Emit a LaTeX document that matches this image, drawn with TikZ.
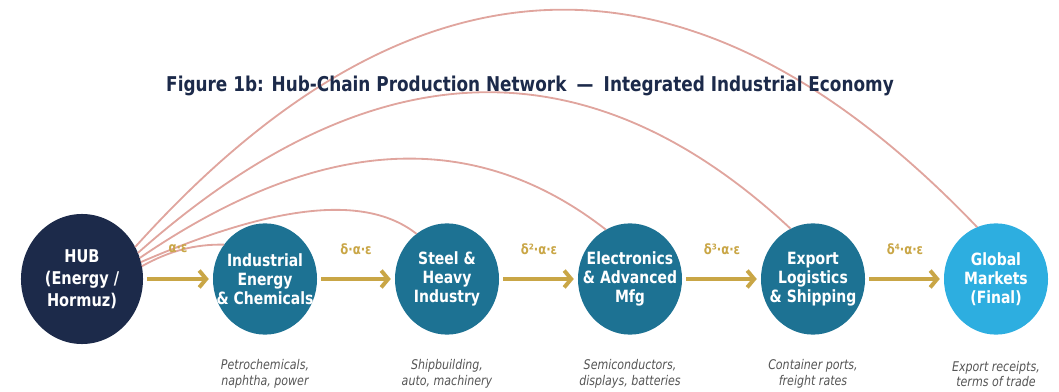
\documentclass[tikz,border=0pt]{standalone}
\usepackage{fontspec}
\setmainfont{DejaVuSansCondensed}[Extension=.ttf,FakeStretch=0.92,%
  BoldFont=*-Bold,ItalicFont=*-Oblique,BoldItalicFont=*-BoldOblique]
\usetikzlibrary{arrows.meta,shapes.geometric}

\definecolor{hubnavy}{HTML}{1C2A4A}
\definecolor{chainteal}{HTML}{1D7293}
\definecolor{marketblue}{HTML}{2DAEE0}
\definecolor{flowgold}{HTML}{C9A646}
\definecolor{linkpink}{HTML}{E0A59E}
\definecolor{notegray}{HTML}{555555}

\begin{document}
\begin{tikzpicture}
[x=0.025cm,y=-0.025cm,%
  every node/.style={align=center,inner sep=0pt,outer sep=0pt},%
  sector/.style={ellipse,fill=chainteal,text=white,inner sep=-20pt,%
    font=\bfseries\fontsize{12}{13.6}\selectfont,%
    minimum width=2.6cm,minimum height=2.78cm},%
  flow/.style={-{Straight Barb[length=5pt,width=12pt]},line width=2.8pt,%
    flowgold,shorten <=3pt,shorten >=3pt},%
  link/.style={linkpink,line width=1.3pt},%
  rate/.style={flowgold,font=\bfseries\fontsize{10}{12}\selectfont},%
  note/.style={notegray,font=\itshape\fontsize{9.5}{11}\selectfont}]
\useasboundingbox (0,0) rectangle (1059,392);

% the chain
\node[sector,fill=hubnavy,minimum width=3.05cm,minimum height=3.25cm,%
  font=\bfseries\fontsize{12.5}{15.5}\selectfont] (hub) at (82,279)
  {HUB\\(Energy /\\Hormuz)};
\node[sector] (ind) at (265,279) {Industrial\\Energy\\\& Chemicals};
\node[sector] (steel) at (447,279) {Steel \&\\Heavy\\Industry};
\node[sector] (elec) at (630,279) {Electronics\\\& Advanced\\Mfg};
\node[sector] (exp) at (813,279) {Export\\Logistics\\\& Shipping};
\node[sector,fill=marketblue] (glob) at (996,279) {Global\\Markets\\(Final)};

% direct links from the hub
\draw[link] (hub.12) .. controls (169,251) and (195,244) .. (ind.140);
\draw[link] (hub.16) .. controls (275,204) and (366,194) .. (steel.124);
\draw[link] (hub.20) .. controls (318,136) and (473,126) .. (elec.116);
\draw[link] (hub.25) .. controls (370,47) and (587,39) .. (exp.114);
\draw[link] (hub.31) .. controls (414,-63) and (694,-69) .. (glob.110);

% flow along the chain
\draw[flow] (hub) -- (ind);
\draw[flow] (ind) -- (steel);
\draw[flow] (steel) -- (elec);
\draw[flow] (elec) -- (exp);
\draw[flow] (exp) -- (glob);

\node[rate] (r1) at (178,249) {α·ε};
\node[rate] (r2) at (356,249) {δ·α·ε};
\node[rate] (r3) at (539,249) {δ²·α·ε};
\node[rate] (r4) at (722,249) {δ³·α·ε};
\node[rate] (r5) at (905,249) {δ⁴·α·ε};

% notes under the sectors
\node[note] (n1) at (265,374) {Petrochemicals,\\naphtha, power};
\node[note] (n2) at (447,374) {Shipbuilding,\\auto, machinery};
\node[note] (n3) at (630,374) {Semiconductors,\\displays, batteries};
\node[note] (n4) at (813,374) {Container ports,\\freight rates};
\node[note] (n5) at (996,374) {Export receipts,\\terms of trade};

\node[text=hubnavy,font=\bfseries\fontsize{14.5}{17}\selectfont] (title) at (530,86)
  {Figure 1b: Hub-Chain Production Network\enspace—\enspace Integrated Industrial Economy};
\end{tikzpicture}
\end{document}
